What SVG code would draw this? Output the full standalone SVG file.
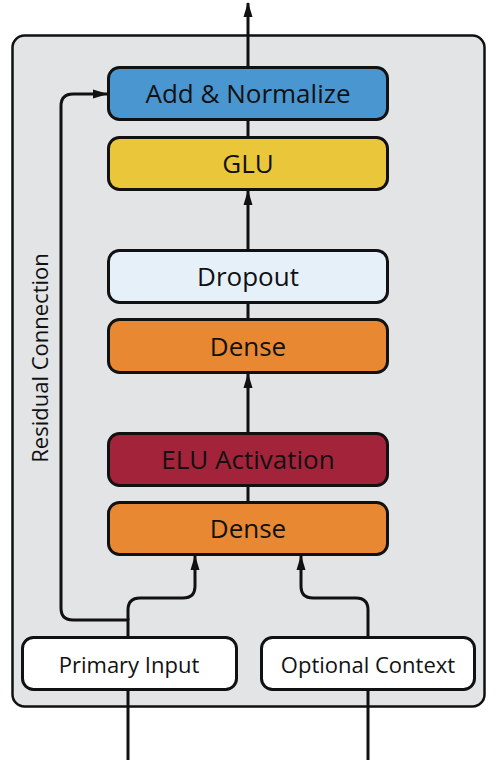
<svg xmlns="http://www.w3.org/2000/svg" width="498" height="760" viewBox="0 0 498 760">
<style>
.box{stroke:#111;stroke-width:3}
.lbl{font-family:"Open Sans","Noto Sans",sans-serif;font-size:26px;fill:#111;text-anchor:middle;dominant-baseline:central}
.in{font-size:22px}
.wire{fill:none;stroke:#111;stroke-width:3}
</style>
<defs>
<marker id="ah" markerWidth="15" markerHeight="10" refX="14" refY="5" orient="auto" markerUnits="userSpaceOnUse">
<path d="M0,0.5 L15,5 L0,9.5 Z" fill="#111"/>
</marker>
</defs>
<rect x="12.5" y="35.5" width="472" height="671" rx="12" fill="#e3e4e6" stroke="#111" stroke-width="2.5"/>
<g id="connectors">
<path class="wire" d="M248,67 V3" marker-end="url(#ah)"/>
<path class="wire" d="M248,137 V120"/>
<path class="wire" d="M248,250 V191" marker-end="url(#ah)"/>
<path class="wire" d="M248,319 V303"/>
<path class="wire" d="M248,433 V374" marker-end="url(#ah)"/>
<path class="wire" d="M248,502 V486"/>
<path class="wire" d="M128,637 V620 H73 Q61,620 61,608 V106 Q61,94 73,94 H107" marker-end="url(#ah)"/>
<path class="wire" d="M128,620 V610 Q128,598 140,598 H183 Q195,598 195,586 V556" marker-end="url(#ah)"/>
<path class="wire" d="M368,637 V610 Q368,598 356,598 H313 Q301,598 301,586 V556" marker-end="url(#ah)"/>
<path class="wire" d="M128,690 V760"/>
<path class="wire" d="M368,690 V760"/>
</g>
<g id="add-normalize"><rect class="box" x="108.5" y="67.5" width="279" height="52" rx="11" fill="#4a96d0"/><text class="lbl" x="248" y="93">Add &amp; Normalize</text></g>
<g id="glu"><rect class="box" x="108.5" y="137.5" width="279" height="52" rx="11" fill="#e9c63a"/><text class="lbl" x="248" y="163">GLU</text></g>
<g id="dropout"><rect class="box" x="108.5" y="250.5" width="279" height="52" rx="11" fill="#e6f0f9"/><text class="lbl" x="248" y="276">Dropout</text></g>
<g id="dense2"><rect class="box" x="108.5" y="319.5" width="279" height="53" rx="11" fill="#e88832"/><text class="lbl" x="248" y="346">Dense</text></g>
<g id="elu"><rect class="box" x="108.5" y="433.5" width="279" height="52" rx="11" fill="#a3243a"/><text class="lbl" x="248" y="459">ELU Activation</text></g>
<g id="dense1"><rect class="box" x="108.5" y="502.5" width="279" height="52" rx="11" fill="#e88832"/><text class="lbl" x="248" y="528">Dense</text></g>
<g id="primary-input"><rect class="box" x="22.5" y="637.5" width="214" height="52" rx="11" fill="#fff"/><text class="lbl in" x="129" y="664">Primary Input</text></g>
<g id="optional-context"><rect class="box" x="261.5" y="637.5" width="213" height="52" rx="11" fill="#fff"/><text class="lbl in" x="368" y="664">Optional Context</text></g>
<text class="lbl in" transform="translate(39,358) rotate(-90)">Residual Connection</text>
</svg>
